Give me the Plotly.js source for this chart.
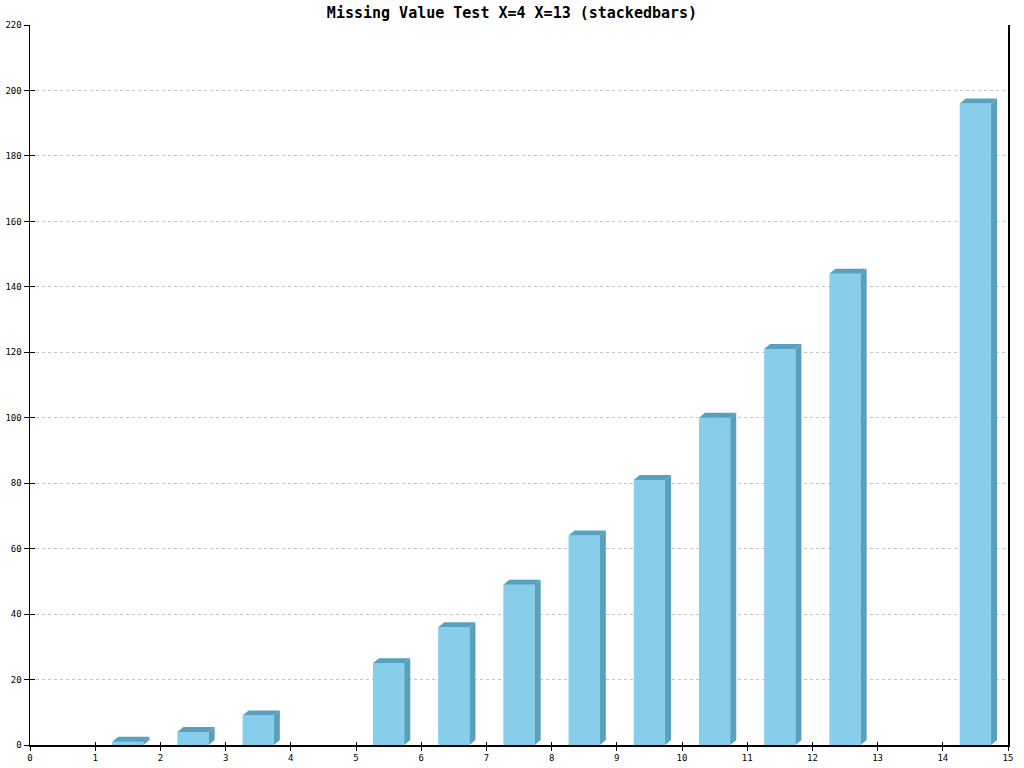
<!DOCTYPE html>
<html>
<head>
<meta charset="utf-8">
<script src="https://cdn.plot.ly/plotly-3.0.1.min.js"></script>
<style>html,body{margin:0;padding:0;background:#fff;}#chart{width:1024px;height:768px;}</style>
</head>
<body>
<div id="chart"></div>
<script>
// Data
const xValues = [1, 2, 3, 4, 5, 6, 7, 8, 9, 10, 11, 12, 13, 14];
const yValues = [1, 4, 9, null, 25, 36, 49, 64, 81, 100, 121, 144, null, 196];
const yTicks = [0, 20, 40, 60, 80, 100, 120, 140, 160, 180, 200, 220];
const xTicks = [0, 1, 2, 3, 4, 5, 6, 7, 8, 9, 10, 11, 12, 13, 14, 15];

// Styling
const FRONT = '#87ceeb';
const SIDE = '#58a0bd';
const BAR_OFFSET = 0.26;
const BAR_WIDTH = 0.48;
const DX = 6 / 65.2;          // depth in x units (~6px)
const DY = 5 * 220 / 720;     // depth in y units (~5px)

const shapes = [];
xValues.forEach((x, i) => {
  const v = yValues[i];
  if (v === null || v === undefined) return;
  const l = x + BAR_OFFSET, r = l + BAR_WIDTH;
  shapes.push({
    type: 'path', xref: 'x', yref: 'y', layer: 'above',
    path: `M${r},0 L${r + DX},${DY} L${r + DX},${v + DY} L${r},${v} Z`,
    fillcolor: SIDE, line: {width: 0}
  });
  shapes.push({
    type: 'path', xref: 'x', yref: 'y', layer: 'above',
    path: `M${l},${v} L${l + DX},${v + DY} L${r + DX},${v + DY} L${r},${v} Z`,
    fillcolor: SIDE, line: {width: 0}
  });
});

const tickFont = {family: 'DejaVu Sans Mono', size: 9, color: '#000'};

const data = [
  {
    type: 'bar', x: xValues, y: yValues,
    width: BAR_WIDTH, offset: BAR_OFFSET,
    marker: {color: FRONT, line: {width: 0}},
    hoverinfo: 'x+y'
  },
  {
    type: 'scatter', x: [], y: [], xaxis: 'x2', yaxis: 'y2',
    showlegend: false, hoverinfo: 'skip'
  }
];

const layout = {
  width: 1024, height: 768,
  margin: {l: 30, r: 16, t: 25, b: 23},
  paper_bgcolor: '#fff', plot_bgcolor: '#fff',
  showlegend: false,
  title: {
    text: 'Missing Value Test X=4 X=13 (stackedbars)',
    font: {family: 'DejaVu Sans Mono', size: 15, color: '#000', weight: 'bold'},
    x: 0.5, xanchor: 'center', y: 0.983, yanchor: 'middle'
  },
  xaxis: {
    range: [0, 15], tickvals: xTicks, ticktext: xTicks.map(String),
    showgrid: false, zeroline: false,
    showline: true, linecolor: '#000', linewidth: 1.5,
    ticks: 'outside', ticklen: 4, tickcolor: '#000', tickwidth: 1,
    tickfont: tickFont, fixedrange: true
  },
  yaxis: {
    range: [0, 220], tickvals: yTicks, ticktext: yTicks.map(String),
    showgrid: true, gridcolor: '#c4c4c4', griddash: '3px,3px', gridwidth: 1,
    zeroline: false,
    showline: true, mirror: true, linecolor: '#000', linewidth: 1.5,
    ticks: 'outside', ticklen: 5, tickcolor: '#000', tickwidth: 1,
    tickfont: tickFont, fixedrange: true
  },
  xaxis2: {
    overlaying: 'x', matches: 'x', range: [0, 15], tickvals: xTicks,
    showticklabels: false, showgrid: false, zeroline: false, showline: false,
    ticks: 'inside', ticklen: 3, tickcolor: '#000', tickwidth: 1, side: 'bottom'
  },
  yaxis2: {
    overlaying: 'y', matches: 'y', range: [0, 220], tickvals: yTicks,
    showticklabels: false, showgrid: false, zeroline: false, showline: false,
    ticks: 'inside', ticklen: 5, tickcolor: '#000', tickwidth: 1, side: 'left'
  },
  shapes: shapes
};

Plotly.newPlot('chart', data, layout, {displayModeBar: false, staticPlot: true});
</script>
</body>
</html>
